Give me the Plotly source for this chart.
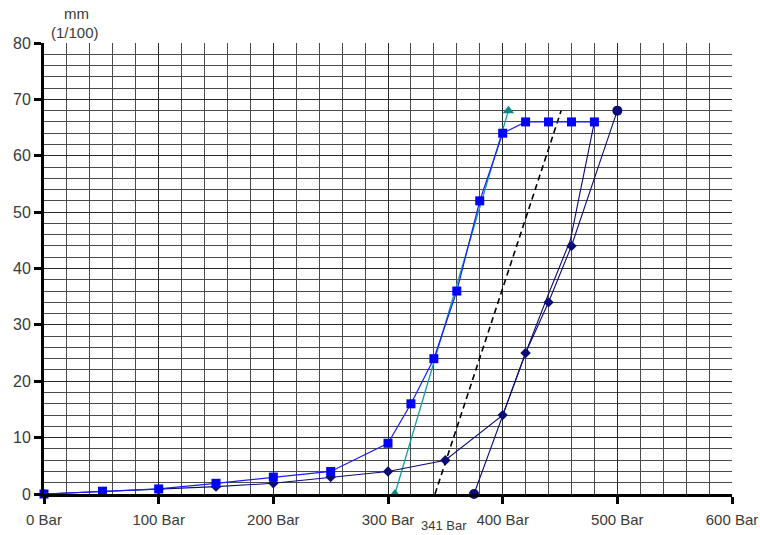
import plotly.graph_objects as go

# Blue squares series
sq_x = [0, 51, 100, 150, 200, 250, 300, 320, 340, 360, 380, 400, 420, 440, 460, 480]
sq_y = [0, 0.5, 0.9, 1.9, 3.0, 4.0, 9.0, 16.0, 24.0, 36.0, 52.0, 64.0, 66.0, 66.0, 66.0, 66.0]

# Navy diamond series (ends with circle)
dm_x = [0, 100, 150, 200, 250, 300, 350, 400, 420, 440, 460, 500]
dm_y = [0, 0.8, 1.3, 1.9, 3.0, 4.0, 6.0, 14.0, 25.0, 34.0, 44.0, 68.0]

# Navy return line (starts with circle)
rt_x = [375, 400, 420, 439, 459, 480]
rt_y = [0, 14.0, 25.0, 35.0, 45.0, 66.0]

# Teal triangles
tr_x = [306, 405]
tr_y = [0, 68]

# Dashed reference line
ds_x = [341, 451]
ds_y = [0, 68]

x_ticks = [0, 100, 200, 300, 400, 500, 600]
x_labels = ["0 Bar", "100 Bar", "200 Bar", "300 Bar", "400 Bar", "500 Bar", "600 Bar"]
y_ticks = [0, 10, 20, 30, 40, 50, 60, 70, 80]

navy = "#0c0c78"
fig = go.Figure()

fig.add_trace(go.Scatter(x=ds_x, y=ds_y, mode="lines",
                         line=dict(color="black", width=1.6, dash="6px,4px"),
                         cliponaxis=False, showlegend=False))
fig.add_trace(go.Scatter(x=tr_x, y=tr_y, mode="lines+markers",
                         line=dict(color="#10a0a0", width=1.3),
                         marker=dict(symbol="triangle-up", size=10, color="#088888", line=dict(width=0)),
                         cliponaxis=False, showlegend=False))
fig.add_trace(go.Scatter(x=rt_x, y=rt_y, mode="lines+markers",
                         line=dict(color=navy, width=1.1),
                         marker=dict(symbol=["circle"] + ["diamond"] * (len(rt_x) - 1),
                                     size=[10] + [0] * (len(rt_x) - 1), color=navy,
                                     line=dict(width=0), opacity=1),
                         cliponaxis=False, showlegend=False))
fig.add_trace(go.Scatter(x=dm_x, y=dm_y, mode="lines+markers",
                         line=dict(color=navy, width=1.1),
                         marker=dict(symbol=["diamond"] * (len(dm_x) - 1) + ["circle"],
                                     size=[8] * (len(dm_x) - 1) + [10], color=navy,
                                     line=dict(width=0), opacity=1),
                         cliponaxis=False, showlegend=False))
fig.add_trace(go.Scatter(x=sq_x, y=sq_y, mode="lines+markers",
                         line=dict(color="#1a1aff", width=1.2),
                         marker=dict(symbol="square", size=9, color="#0000ff", line=dict(width=0)),
                         cliponaxis=False, showlegend=False))

fam = "Liberation Sans, Arial, sans-serif"
xfont = dict(family=fam, size=15, color="#3a3a3a")
yfont = dict(family=fam, size=16, color="#3a3a3a")

fig.update_xaxes(range=[0, 600], tickvals=x_ticks, ticktext=x_labels,
                 showline=True, linecolor="black", linewidth=3,
                 ticks="outside", ticklen=7, tickwidth=3, tickcolor="black",
                 ticklabelstandoff=3, ticklabeloverflow="allow",
                 showgrid=True, gridcolor="#2a2a2a", gridwidth=1,
                 minor=dict(dtick=20, showgrid=True, gridcolor="#4a4a4a", gridwidth=1, ticks=""),
                 zeroline=False, tickfont=xfont, fixedrange=True, automargin=False)
fig.update_yaxes(range=[0, 80], tickvals=y_ticks,
                 showline=True, linecolor="black", linewidth=3,
                 ticks="outside", ticklen=7, tickwidth=3, tickcolor="black",
                 ticklabeloverflow="allow",
                 showgrid=True, gridcolor="#2a2a2a", gridwidth=1,
                 minor=dict(dtick=2, showgrid=True, gridcolor="#4a4a4a", gridwidth=1, ticks=""),
                 zeroline=False, tickfont=yfont, fixedrange=True, automargin=False)

# plot area spans x 44..732, y 43..494 on the page
PW, PH = 688, 451
fig.add_annotation(text="mm", xref="paper", yref="paper", x=(76 - 44) / PW, y=1 + (43 - 13) / PH,
                   showarrow=False, font=xfont, xanchor="center", yanchor="middle")
fig.add_annotation(text="(1/100)", xref="paper", yref="paper", x=(75 - 44) / PW, y=1 + (43 - 33) / PH,
                   showarrow=False, font=xfont, xanchor="center", yanchor="middle")
fig.add_annotation(text="341 Bar", xref="x", yref="paper", x=341, y=-(535 - 494) / PH,
                   xshift=9, showarrow=False, font=dict(family=fam, size=13, color="#3a3a3a"),
                   xanchor="center", yanchor="bottom")

fig.update_layout(width=760, height=535, margin=dict(l=44, r=28, t=43, b=41, autoexpand=False),
                  plot_bgcolor="white", paper_bgcolor="white", showlegend=False)

fig.write_html("out.html", config={"displayModeBar": False},
               post_script="document.body.style.margin='0';document.body.style.overflow='hidden';")
